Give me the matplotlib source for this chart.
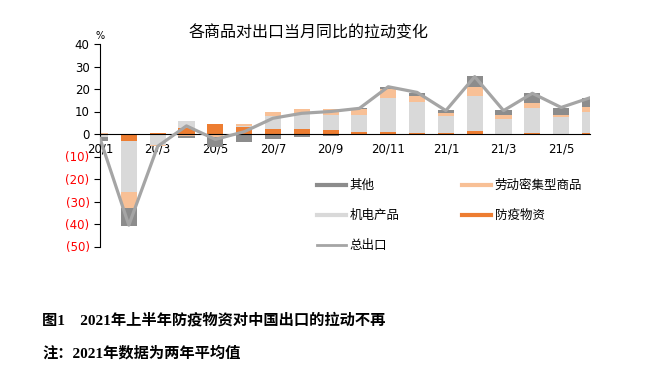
import numpy as np
import matplotlib
matplotlib.use("Agg")
import matplotlib.pyplot as plt
from matplotlib.lines import Line2D

plt.rcParams['font.family'] = ['Noto Sans CJK SC', 'DejaVu Sans']

MONTHS = ["20/1", "20/2", "20/3", "20/4", "20/5", "20/6", "20/7", "20/8", "20/9",
          "20/10", "20/11", "20/12", "21/1", "21/2", "21/3", "21/4", "21/5", "21/6"]
# stacking order as in the original: 防疫物资, 机电产品, 劳动密集型商品, 其他
FANGYI = [0.0, -2.9, 0.3, 2.5, 4.4, 3.1, 2.4, 2.1, 1.8, 1.0, 1.0, 0.6, 0.6, 1.5, 0.0, 0.4, 0.2, 0.4]
JIDIAN = [-1.4, -22.7, -4.8, 3.4, 0.0, 0.5, 5.8, 7.3, 6.7, 7.4, 15.1, 13.8, 7.4, 15.6, 6.7, 11.3, 7.2, 9.5]
LAODONG = [0.5, -7.1, -0.5, -1.0, -1.3, 0.8, 1.5, 1.5, 2.7, 2.7, 3.9, 2.5, 1.5, 4.0, 1.8, 2.2, 1.2, 2.0]
QITA = [-1.6, -8.2, 0.0, -0.9, -4.5, -3.7, -2.2, -1.4, -1.1, 0.3, 0.8, 1.5, 1.2, 4.7, 2.2, 4.4, 3.0, 4.0]
TOTAL = [-2.0, -40.5, -5.5, 3.6, -2.4, 1.0, 7.0, 9.2, 10.0, 11.4, 21.0, 18.5, 10.4, 25.5, 10.4, 18.1, 11.8, 16.1]

SERIES = [("防疫物资", FANGYI, "#ED7D31"),
          ("机电产品", JIDIAN, "#D9D9D9"),
          ("劳动密集型商品", LAODONG, "#F8C096"),
          ("其他", QITA, "#8C8C8C")]

fig = plt.figure(figsize=(6.72, 3.71), dpi=100)
ax = fig.add_axes([100 / 672, 1 - 246.5 / 371, 490 / 672, (246.5 - 44) / 371])

x = np.arange(len(MONTHS))
pos_base = np.zeros(len(MONTHS))
neg_base = np.zeros(len(MONTHS))
for name, vals, color in SERIES:
    v = np.asarray(vals)
    bottom = np.where(v >= 0, pos_base, neg_base)
    ax.bar(x, v, width=0.56, bottom=bottom, color=color, zorder=2)
    pos_base += np.clip(v, 0, None)
    neg_base += np.clip(v, None, 0)

ax.plot(x, TOTAL, color="#A5A5A5", lw=2.3, zorder=4)

ax.set_xlim(0, 17)
ax.set_ylim(-50, 40)
ax.spines['top'].set_visible(False)
ax.spines['right'].set_visible(False)
ax.spines['bottom'].set_position(('data', 0))
ax.spines['bottom'].set_zorder(3)
ax.set_xticks(x[::2])
ax.set_xticklabels(MONTHS[::2], fontsize=8.5, family='DejaVu Sans')
ax.tick_params(axis='x', length=0, pad=6)
yt = np.arange(-50, 41, 10)
ax.set_yticks(yt)
ax.set_yticklabels([str(v) if v >= 0 else "(%d)" % -v for v in yt], fontsize=8.5, family='DejaVu Sans')
for lab, v in zip(ax.get_yticklabels(), yt):
    if v < 0:
        lab.set_color("red")
ax.tick_params(axis='y', length=4, width=0.8)

fig.text(100 / 672, 1 - 36 / 371, "%", fontsize=7, ha='center', va='center', family='DejaVu Sans')
fig.text(309 / 672, 1 - 33 / 371, "各商品对出口当月同比的拉动变化", fontsize=11.5, ha='center', va='center')

handles = [Line2D([], [], color="#8C8C8C", lw=3),
           Line2D([], [], color="#D9D9D9", lw=3),
           Line2D([], [], color="#A5A5A5", lw=2),
           Line2D([], [], color="#F8C096", lw=3),
           Line2D([], [], color="#ED7D31", lw=3)]
labels = ["其他", "机电产品", "总出口", "劳动密集型商品", "防疫物资"]
fig.legend(handles, labels, loc='upper left', bbox_to_anchor=(306 / 672, 1 - 168 / 371),
           ncol=2, frameon=False, fontsize=9, handlelength=2.3, handletextpad=0.3,
           labelspacing=1.35, columnspacing=5.0)

cap_font = ['Liberation Serif', 'Noto Sans CJK SC']
fig.text(42 / 672, 1 - 320 / 371, "图1　2021年上半年防疫物资对中国出口的拉动不再", fontsize=11,
         fontweight='bold', family=cap_font, va='center')
fig.text(42 / 672, 1 - 353 / 371, "注：2021年数据为两年平均值", fontsize=11,
         fontweight='bold', family=cap_font, va='center')

fig.savefig("out.png", dpi=100)
